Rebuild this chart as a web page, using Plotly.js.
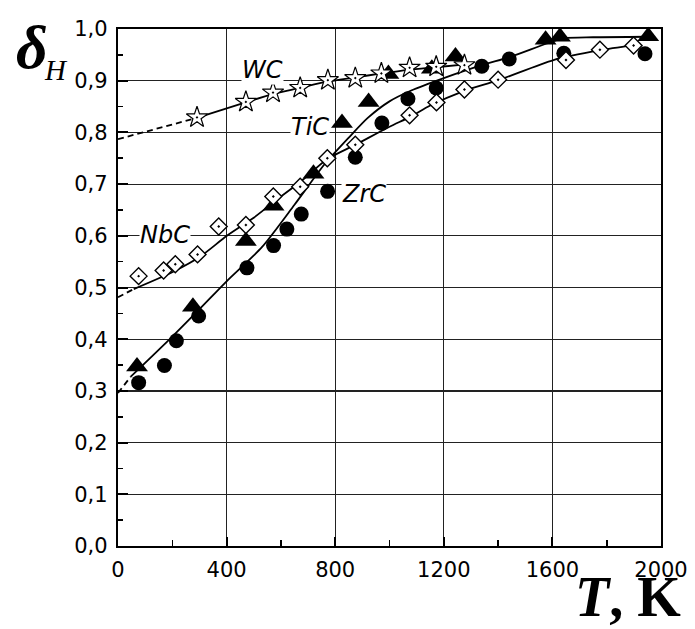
<!DOCTYPE html>
<html>
<head>
<meta charset="utf-8">
<script src="https://cdn.plot.ly/plotly-3.0.1.min.js"></script>
<style>html,body{margin:0;padding:0;background:#fff;} #chart{width:695px;height:629px;}</style>
</head>
<body>
<div id="chart"></div>
<script>
// ---- data ----
const wcT   = [291, 471, 571, 671, 773, 874, 970, 1074, 1172, 1276];
const wcD   = [0.829, 0.859, 0.877, 0.886, 0.901, 0.905, 0.914, 0.925, 0.927, 0.930];

const ticT  = [70, 276, 471, 573, 720, 825, 923, 996, 1156, 1243, 1575, 1628, 1953];
const ticD  = [0.347, 0.463, 0.590, 0.658, 0.720, 0.818, 0.859, 0.913, 0.923, 0.947, 0.979, 0.985, 0.986];

const zrcT  = [76, 171, 215, 297, 475, 573, 622, 675, 772, 874, 972, 1068, 1172, 1340, 1441, 1642, 1941];
const zrcD  = [0.316, 0.349, 0.397, 0.445, 0.538, 0.581, 0.613, 0.642, 0.686, 0.752, 0.818, 0.865, 0.886, 0.928, 0.942, 0.953, 0.952];

const nbcT  = [76, 168, 211, 293, 371, 471, 572, 671, 771, 874, 1074, 1173, 1276, 1400, 1650, 1775, 1899];
const nbcD  = [0.522, 0.533, 0.545, 0.564, 0.618, 0.621, 0.676, 0.695, 0.750, 0.776, 0.833, 0.858, 0.883, 0.902, 0.940, 0.960, 0.968];

// fitted curves
const wcFitT   = [290, 470, 570, 670, 770, 870, 970, 1070, 1170, 1290];
const wcFitD   = [0.828, 0.858, 0.874, 0.886, 0.898, 0.906, 0.914, 0.921, 0.926, 0.932];
const wcDashT  = [0, 290];
const wcDashD  = [0.787, 0.828];

const tzFitT   = [46, 200, 300, 400, 530, 650, 760, 850, 920, 1000, 1080, 1200, 1340, 1444, 1579, 1640, 1750, 1950];
const tzFitD   = [0.327, 0.405, 0.458, 0.512, 0.578, 0.660, 0.738, 0.790, 0.828, 0.860, 0.881, 0.905, 0.930, 0.946, 0.972, 0.982, 0.984, 0.985];
const tzDashT  = [0, 46];
const tzDashD  = [0.296, 0.327];

const nbFitT   = [58, 205, 303, 401, 500, 573, 680, 770, 874, 1000, 1076, 1150, 1273, 1401, 1604, 1775, 1900];
const nbFitD   = [0.497, 0.531, 0.560, 0.600, 0.635, 0.665, 0.708, 0.748, 0.776, 0.811, 0.830, 0.852, 0.880, 0.901, 0.940, 0.959, 0.969];
const nbDashT  = [0, 58];
const nbDashD  = [0.481, 0.497];

const xTicks   = [0, 400, 800, 1200, 1600, 2000];
const xLabels  = ['0', '400', '800', '1200', '1600', '2000'];
const yTicks   = [0, 0.1, 0.2, 0.3, 0.4, 0.5, 0.6, 0.7, 0.8, 0.9, 1.0];
const yLabels  = ['0,0', '0,1', '0,2', '0,3', '0,4', '0,5', '0,6', '0,7', '0,8', '0,9', '1,0'];

const seriesLabels = [
  {text: 'WC',  T: 531, d: 0.921},
  {text: 'TiC', T: 708, d: 0.810},
  {text: 'ZrC', T: 905, d: 0.681},
  {text: 'NbC', T: 172, d: 0.602}
];

// ---- traces ----
const lineStyle = {color: '#000', width: 1.8, shape: 'spline', smoothing: 0.7};
const dashStyle = {color: '#000', width: 1.8, dash: '6px,4px'};

const traces = [
  {x: wcDashT, y: wcDashD, mode: 'lines', line: dashStyle},
  {x: tzDashT, y: tzDashD, mode: 'lines', line: dashStyle},
  {x: nbDashT, y: nbDashD, mode: 'lines', line: dashStyle},
  {x: wcFitT, y: wcFitD, mode: 'lines', line: lineStyle},
  {x: tzFitT, y: tzFitD, mode: 'lines', line: lineStyle},
  {x: nbFitT, y: nbFitD, mode: 'lines', line: lineStyle},
  {x: zrcT, y: zrcD, mode: 'markers', cliponaxis: false,
   marker: {symbol: 'circle', size: 15, color: '#000', line: {width: 0}}},
  {x: ticT, y: ticD, mode: 'markers', cliponaxis: false,
   marker: {symbol: 'triangle-up', size: 19, color: '#000', line: {width: 0}}},
  {x: nbcT, y: nbcD, mode: 'markers', cliponaxis: false,
   marker: {symbol: 'diamond-dot', size: 13, color: '#fff', line: {color: '#000', width: 1.4}}},
  {x: wcT, y: wcD, mode: 'markers', cliponaxis: false,
   marker: {symbol: 'star-dot', size: 16, color: '#fff', line: {color: '#000', width: 1.2}}}
];

const tickFont = {family: 'DejaVu Sans, sans-serif', size: 21, color: '#000'};

const annotations = seriesLabels.map(l => ({
  x: l.T, y: l.d, xref: 'x', yref: 'y', text: '<i>' + l.text + '</i>',
  showarrow: false, bgcolor: '#fff', borderpad: 0,
  font: {family: 'DejaVu Sans, sans-serif', size: 24, color: '#000'}
}));

annotations.push({
  xref: 'paper', yref: 'paper', x: -0.158, y: 0.965, xanchor: 'center', yanchor: 'middle',
  text: '<b><i>δ</i></b>', showarrow: false,
  font: {family: 'Liberation Serif, Times New Roman, serif', size: 62, color: '#000'}
});
annotations.push({
  xref: 'paper', yref: 'paper', x: -0.115, y: 0.92, xanchor: 'center', yanchor: 'middle',
  text: '<i>H</i>', showarrow: false,
  font: {family: 'Liberation Serif, Times New Roman, serif', size: 29, color: '#000'}
});
annotations.push({
  xref: 'paper', yref: 'paper', x: 1.04, y: -0.098, xanchor: 'right', yanchor: 'middle',
  text: '<b><i>T</i>, K</b>', showarrow: false,
  font: {family: 'Liberation Serif, Times New Roman, serif', size: 56, color: '#000'}
});

const layout = {
  width: 695, height: 629,
  margin: {l: 118, r: 34, t: 29, b: 83},
  paper_bgcolor: '#fff', plot_bgcolor: '#fff',
  showlegend: false,
  xaxis: {
    range: [0, 2000], tickvals: xTicks, ticktext: xLabels,
    showgrid: true, gridcolor: '#222', gridwidth: 1.2,
    zeroline: false, showline: true, linecolor: '#000', linewidth: 2.2, mirror: true,
    ticks: 'inside', ticklen: 9, tickwidth: 2, tickcolor: '#000',
    minor: {dtick: 200, tick0: 0, ticks: 'inside', ticklen: 6, tickwidth: 1.6, tickcolor: '#000', showgrid: false},
    tickfont: tickFont, ticklabelstandoff: 4
  },
  yaxis: {
    range: [0, 1], tickvals: yTicks, ticktext: yLabels,
    showgrid: true, gridcolor: '#222', gridwidth: 1.2,
    zeroline: false, showline: true, linecolor: '#000', linewidth: 2.2, mirror: true,
    ticks: 'inside', ticklen: 10, tickwidth: 2, tickcolor: '#000',
    minor: {dtick: 0.05, tick0: 0, ticks: 'inside', ticklen: 5, tickwidth: 1.6, tickcolor: '#000', showgrid: false},
    tickfont: tickFont, ticklabelstandoff: 4
  },
  annotations: annotations
};

Plotly.newPlot('chart', traces, layout, {displayModeBar: false, staticPlot: true});
</script>
</body>
</html>
